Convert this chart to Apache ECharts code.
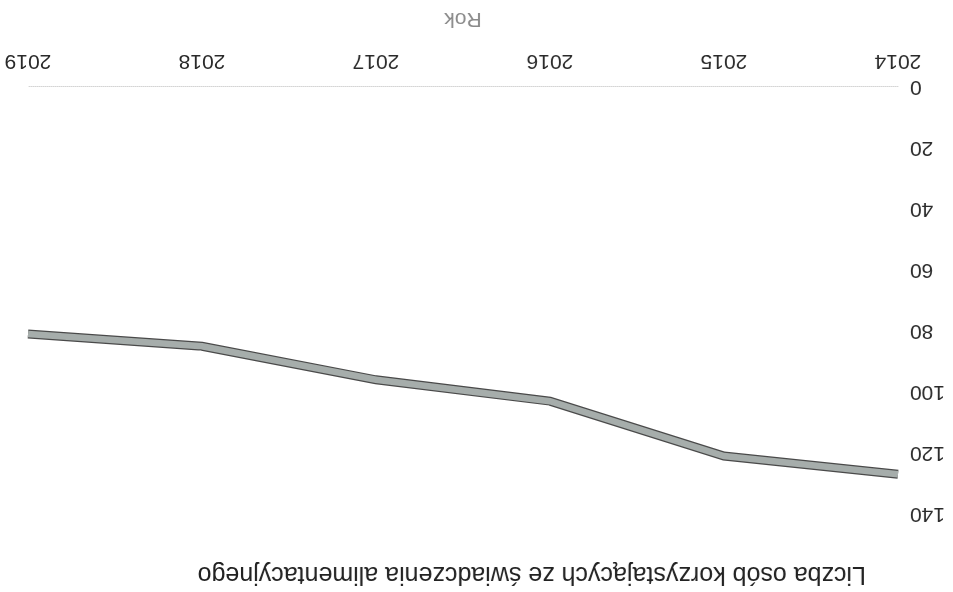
<!DOCTYPE html>
<html>
<head>
<meta charset="utf-8">
<script src="https://cdn.jsdelivr.net/npm/echarts@6/dist/echarts.min.js"></script>
<style>
html,body{margin:0;padding:0;background:#fff;}
#chart{width:953px;height:592px;transform:rotate(180deg);transform-origin:50% 50%;}
</style>
</head>
<body>
<div id="chart"></div>
<script>
const years = ['2014', '2015', '2016', '2017', '2018', '2019'];
const persons = [127, 121, 103, 96, 85, 81];
const yTicks = { min: 0, max: 140, interval: 20 };
const titleText = 'Liczba osób korzystających ze świadczenia alimentacyjnego';
const xName = 'Rok';

const chart = echarts.init(document.getElementById('chart'), null, { renderer: 'canvas' });
const font = '"Liberation Sans", Arial, sans-serif';
chart.setOption({
  animation: false,
  backgroundColor: '#ffffff',
  title: {
    text: titleText,
    left: 82, top: 1,
    textStyle: { fontFamily: font, fontSize: 25, fontWeight: 'normal', color: '#222' }
  },
  grid: { left: 55, right: 28, top: 78, bottom: 87 },
  xAxis: {
    type: 'category',
    data: years,
    boundaryGap: false,
    name: xName,
    nameLocation: 'middle',
    nameGap: 58,
    nameTextStyle: { fontFamily: font, fontSize: 21, color: '#8a8a8a' },
    axisLine: { show: true, lineStyle: { color: '#d4d4d4', type: 'dotted', width: 1 } },
    axisTick: { show: false },
    axisLabel: { fontFamily: font, fontSize: 21, color: '#2a2a2a', margin: 16 }
  },
  yAxis: {
    type: 'value',
    min: yTicks.min, max: yTicks.max, interval: yTicks.interval,
    axisLine: { show: false },
    axisTick: { show: false },
    splitLine: { show: false },
    axisLabel: { fontFamily: font, fontSize: 21, color: '#2a2a2a', margin: 12 }
  },
  series: [
    {
      type: 'line', data: persons, symbol: 'none', z: 2,
      lineStyle: { color: '#4a4a4a', width: 9, cap: 'butt', join: 'miter' }
    },
    {
      type: 'line', data: persons, symbol: 'none', z: 3,
      lineStyle: { color: '#a6adab', width: 6.5, cap: 'butt', join: 'miter' }
    }
  ]
});
</script>
</body>
</html>
